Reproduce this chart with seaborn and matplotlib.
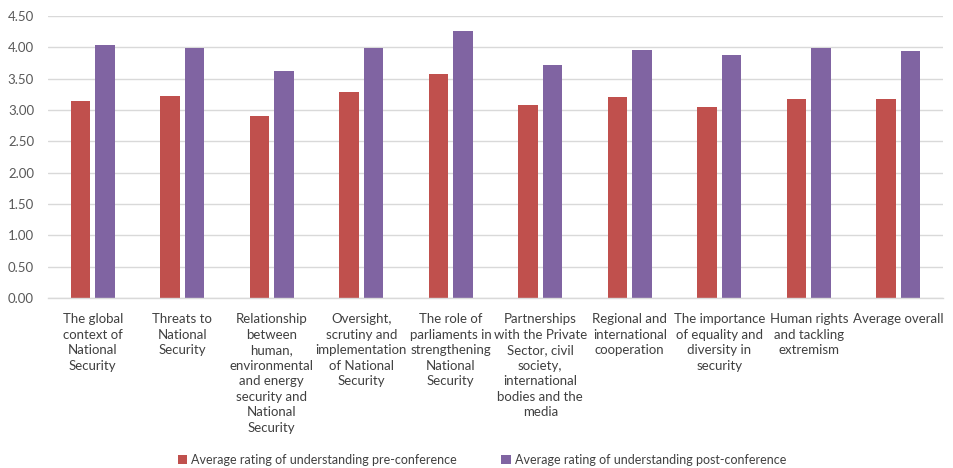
import matplotlib
matplotlib.use("Agg")
import matplotlib.pyplot as plt
import seaborn as sns
import pandas as pd
from matplotlib.patches import Patch

categories = [
    "The global\ncontext of\nNational\nSecurity",
    "Threats to\nNational\nSecurity",
    "Relationship\nbetween\nhuman,\nenvironmental\nand energy\nsecurity and\nNational\nSecurity",
    "Oversight,\nscrutiny and\nimplementation\nof National\nSecurity",
    "The role of\nparliaments in\nstrengthening\nNational\nSecurity",
    "Partnerships\nwith the Private\nSector, civil\nsociety,\ninternational\nbodies and the\nmedia",
    "Regional and\ninternational\ncooperation",
    "The importance\nof equality and\ndiversity in\nsecurity",
    "Human rights\nand tackling\nextremism",
    "Average overall",
]
pre_values = [3.15, 3.22, 2.90, 3.29, 3.58, 3.08, 3.20, 3.04, 3.18, 3.18]
post_values = [4.03, 3.99, 3.63, 3.99, 4.26, 3.72, 3.95, 3.88, 3.99, 3.94]
series_names = [
    "Average rating of understanding pre-conference",
    "Average rating of understanding post-conference",
]
yticks = [0.0, 0.5, 1.0, 1.5, 2.0, 2.5, 3.0, 3.5, 4.0, 4.5]

colors = ["#C0504D", "#8064A2"]

df = pd.DataFrame({
    "category": categories * 2,
    "value": pre_values + post_values,
    "series": [series_names[0]] * len(categories) + [series_names[1]] * len(categories),
})

sns.set_theme(style="white")
plt.rcParams["font.family"] = ["Lato", "DejaVu Sans"]

fig = plt.figure(figsize=(9.54, 4.68), dpi=100)
ax = fig.add_axes([48/954, 1 - 298/468, (943-48)/954, (298-16)/468])

sns.barplot(data=df, x="category", y="value", hue="series", palette=colors,
            saturation=1, width=0.55, gap=0.2, ax=ax, legend=False,
            linewidth=0, edgecolor="none", errorbar=None)

ax.set_ylim(0, 4.5)
ax.set_xlim(-0.5, len(categories) - 0.5)
ax.set_yticks(yticks)
ax.set_yticklabels([f"{t:.2f}" for t in yticks], fontsize=9.5, color="#595959")
ax.set_xticks(range(len(categories)))
ax.set_xticklabels(categories, fontsize=9.5, color="#404040", linespacing=1.35, va="top")
ax.tick_params(axis="y", length=0, pad=10)
ax.tick_params(axis="x", length=0, pad=11)
ax.set_xlabel("")
ax.set_ylabel("")
ax.yaxis.grid(True, color="#D9D9D9", linewidth=1)
ax.set_axisbelow(True)
for s in ["top", "right", "left"]:
    ax.spines[s].set_visible(False)
ax.spines["bottom"].set_color("#D9D9D9")
ax.spines["bottom"].set_linewidth(1)

handles = [Patch(facecolor=c, edgecolor="none") for c in colors]
fig.legend(handles, series_names, loc="center", bbox_to_anchor=(0.505, 1 - 460/468),
           ncol=2, frameon=False, fontsize=9, handlelength=0.75, handleheight=0.75,
           handletextpad=0.3, columnspacing=3.6, labelcolor="#404040", borderpad=0)

fig.savefig("out.png", dpi=100)
